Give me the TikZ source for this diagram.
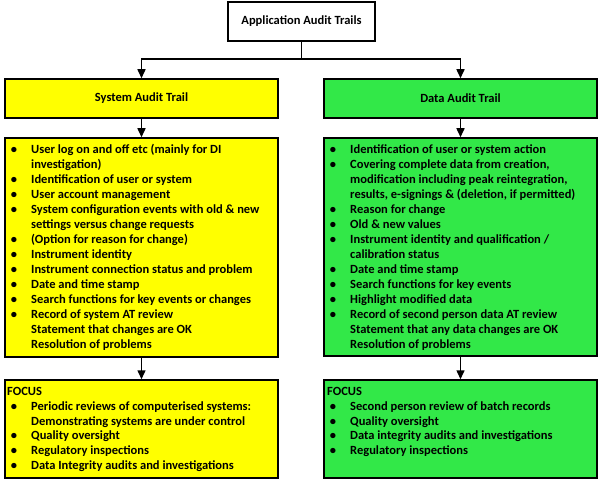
\documentclass[tikz,border=0pt]{standalone}
\usepackage{fontspec}
\setmainfont{Carlito}
\usetikzlibrary{arrows.meta}
\definecolor{ylw}{RGB}{255,255,0}
\definecolor{grn}{RGB}{50,232,72}
\tikzset{
  box/.style={draw=black, line width=1.5bp, inner sep=0pt, font=\bfseries\fontsize{12.5bp}{15bp}\selectfont},
  itm/.style={anchor=base west, inner sep=0pt, font=\bfseries\fontsize{12.5bp}{15bp}\selectfont},
  arr/.style={line width=1.5bp, -{Triangle[width=8bp,length=9bp]}},
  con/.style={line width=1.5bp}
}
\newcommand{\bl}{\llap{\textbullet\hspace{14bp}}}
\begin{document}
\begin{tikzpicture}[x=1bp,y=-1bp]
\useasboundingbox (0,0) rectangle (600,481);
% boxes
\node[box, fill=white, minimum width=147bp, minimum height=39bp] (top) at (301.5,21.5) {Application Audit Trails};
\node[box, fill=ylw, minimum width=273bp, minimum height=39bp] (sys) at (141.5,98.5) {System Audit Trail};
\node[box, fill=grn, minimum width=273bp, minimum height=39bp] (dat) at (460.5,98.5) {Data Audit Trail};
\node[box, fill=ylw, minimum width=273bp, minimum height=219bp] (sysL) at (141.5,247.5) {};
\node[box, fill=grn, minimum width=273bp, minimum height=218bp] (datL) at (460.5,247) {};
\node[box, fill=ylw, minimum width=273bp, minimum height=98bp] (sysF) at (141.5,429) {};
\node[box, fill=grn, minimum width=273bp, minimum height=98bp] (datF) at (460.5,429) {};
% connectors
\coordinate (j) at (301.5,59);
\draw[con] (top.south) -- (j);
\draw[arr] (j) -| (sys.north);
\draw[arr] (j) -| (dat.north);
\draw[arr] (sys.south) -- (sysL.north);
\draw[arr] (dat.south) -- (datL.north);
\draw[arr] (sysL.south) -- (sysF.north);
\draw[arr] (datL.south) -- (datF.north);
% system list
\node[itm] (s1) at (31,154) {\bl User log on and off etc (mainly for DI};
\node[itm] (s2) at (31,168.95) {investigation)};
\node[itm] (s3) at (31,183.9) {\bl Identification of user or system};
\node[itm] (s4) at (31,198.85) {\bl User account management};
\node[itm] (s5) at (31,213.8) {\bl System configuration events with old \& new};
\node[itm] (s6) at (31,228.75) {settings versus change requests};
\node[itm] (s7) at (31,243.7) {\bl (Option for reason for change)};
\node[itm] (s8) at (31,258.65) {\bl Instrument identity};
\node[itm] (s9) at (31,273.6) {\bl Instrument connection status and problem};
\node[itm] (s10) at (31,288.55) {\bl Date and time stamp};
\node[itm] (s11) at (31,303.5) {\bl Search functions for key events or changes};
\node[itm] (s12) at (31,318.45) {\bl Record of system AT review};
\node[itm] (s13) at (31,333.4) {Statement that changes are OK};
\node[itm] (s14) at (31,348.35) {Resolution of problems};
% data list
\node[itm] (d1) at (350,154) {\bl Identification of user or system action};
\node[itm] (d2) at (350,168.95) {\bl Covering complete data from creation,};
\node[itm] (d3) at (350,183.9) {modification including peak reintegration,};
\node[itm] (d4) at (350,198.85) {results, e-signings \& (deletion, if permitted)};
\node[itm] (d5) at (350,213.8) {\bl Reason for change};
\node[itm] (d6) at (350,228.75) {\bl Old \& new values};
\node[itm] (d7) at (350,243.7) {\bl Instrument identity and qualification /};
\node[itm] (d8) at (350,258.65) {calibration status};
\node[itm] (d9) at (350,273.6) {\bl Date and time stamp};
\node[itm] (d10) at (350,288.55) {\bl Search functions for key events};
\node[itm] (d11) at (350,303.5) {\bl Highlight modified data};
\node[itm] (d12) at (350,318.45) {\bl Record of second person data AT review};
\node[itm] (d13) at (350,333.4) {Statement that any data changes are OK};
\node[itm] (d14) at (350,348.35) {Resolution of problems};
% system focus
\node[itm] (sf0) at (7,395.5) {FOCUS};
\node[itm] (sf1) at (31,410.3) {\bl Periodic reviews of computerised systems:};
\node[itm] (sf2) at (31,425.1) {Demonstrating systems are under control};
\node[itm] (sf3) at (31,439.9) {\bl Quality oversight};
\node[itm] (sf4) at (31,454.7) {\bl Regulatory inspections};
\node[itm] (sf5) at (31,469.5) {\bl Data Integrity audits and investigations};
% data focus
\node[itm] (df0) at (327,395.5) {FOCUS};
\node[itm] (df1) at (350,410.3) {\bl Second person review of batch records};
\node[itm] (df2) at (350,425.1) {\bl Quality oversight};
\node[itm] (df3) at (350,439.9) {\bl Data integrity audits and investigations};
\node[itm] (df4) at (350,454.7) {\bl Regulatory inspections};
\end{tikzpicture}
\end{document}
